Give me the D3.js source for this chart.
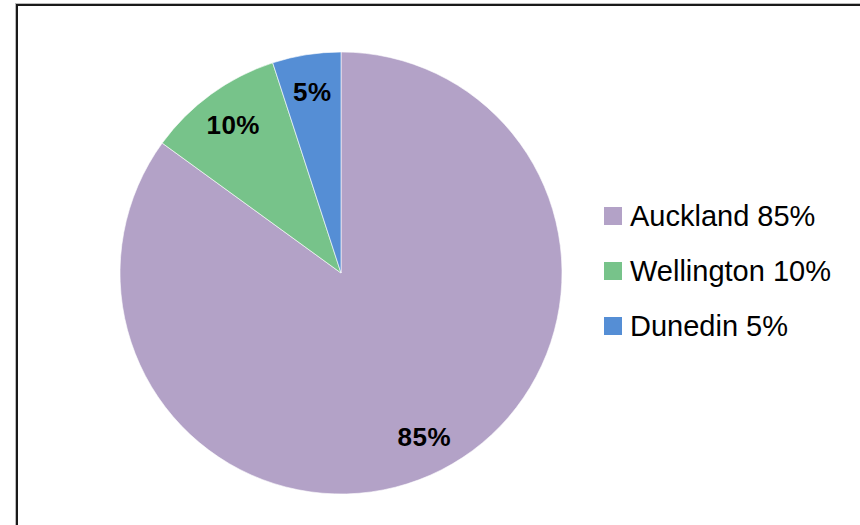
<!DOCTYPE html>
<html>
<head>
<meta charset="utf-8">
<script src="https://cdn.jsdelivr.net/npm/d3@7"></script>
<style>
  body { margin: 0; background: #fff; }
  text { font-family: "Liberation Sans", Arial, sans-serif; }
</style>
</head>
<body>
<div id="chart"></div>
<script>
// chart data
var cities = ["Auckland", "Wellington", "Dunedin"];
var shares = [85, 10, 5];
var sliceColors = ["#b3a2c7", "#77c38a", "#558ed5"];

var width = 860,
    height = 525,
    radius = 221,
    cx = 341,
    cy = 273;

var data = cities.map(function(c, i) { return {city: c, share: shares[i]}; });

var color = d3.scaleOrdinal()
    .domain(cities)
    .range(sliceColors);

var svg = d3.select("#chart").append("svg")
    .attr("width", width)
    .attr("height", height);

// chart frame (runs off the right and bottom edge)
svg.append("rect")
    .attr("x", 15.5)
    .attr("y", 3.5)
    .attr("width", 900)
    .attr("height", 600)
    .style("fill", "none")
    .style("stroke", "#bbb")
    .style("stroke-width", 1);

svg.append("rect")
    .attr("x", 17)
    .attr("y", 5)
    .attr("width", 900)
    .attr("height", 600)
    .style("fill", "#fff")
    .style("stroke", "#1a1a1a")
    .style("stroke-width", 2);

var pie = d3.pie()
    .sort(null)
    .value(function(d) { return d.share; });

var arc = d3.arc()
    .outerRadius(radius)
    .innerRadius(0);

var labelArc = d3.arc()
    .outerRadius(radius * 0.83)
    .innerRadius(radius * 0.83);

var g = svg.append("g")
    .attr("transform", "translate(" + cx + "," + cy + ")");

var slices = g.selectAll(".arc")
    .data(pie(data))
  .enter().append("g")
    .attr("class", "arc");

slices.append("path")
    .attr("d", arc)
    .style("fill", function(d) { return color(d.data.city); })
    .style("stroke", "#fff")
    .style("stroke-width", 0.6);

slices.append("text")
    .attr("transform", function(d) { return "translate(" + labelArc.centroid(d) + ")"; })
    .attr("dy", ".35em")
    .attr("text-anchor", "middle")
    .style("font-weight", "bold")
    .style("font-size", "26px")
    .style("letter-spacing", "0.5px")
    .style("fill", "#000")
    .text(function(d) { return d.data.share + "%"; });

// legend
var legend = svg.append("g")
    .attr("transform", "translate(604,207)");

var item = legend.selectAll(".legend")
    .data(data)
  .enter().append("g")
    .attr("class", "legend")
    .attr("transform", function(d, i) { return "translate(0," + i * 55 + ")"; });

item.append("rect")
    .attr("width", 18)
    .attr("height", 18)
    .style("fill", function(d) { return color(d.city); });

item.append("text")
    .attr("x", 26)
    .attr("y", 18.5)
    .style("font-size", "29px")
    .style("fill", "#000")
    .text(function(d) { return d.city + " " + d.share + "%"; });
</script>
</body>
</html>
